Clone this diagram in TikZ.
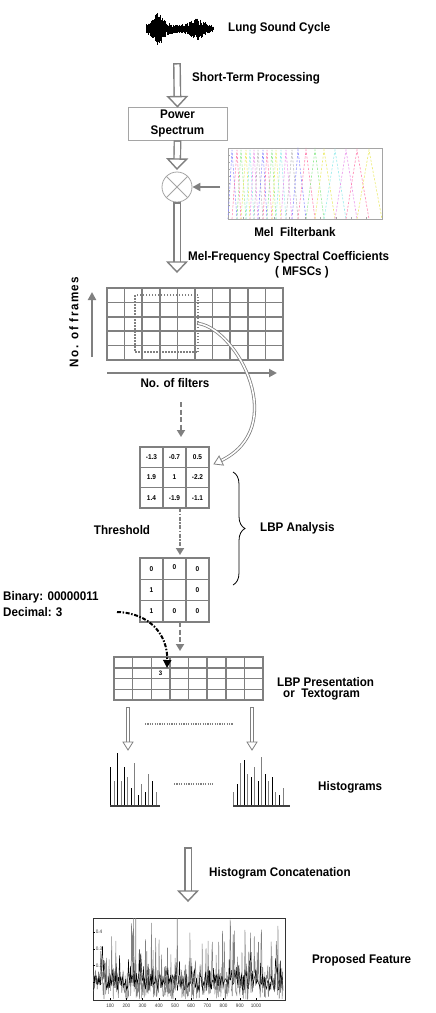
\documentclass[tikz,border=0pt]{standalone}
\usepackage{fontspec}
\setmainfont{Liberation Sans}[FakeStretch=0.93]
\usetikzlibrary{arrows.meta,decorations.pathreplacing,calc}
\definecolor{ag}{RGB}{128,128,128}
\definecolor{lg}{RGB}{165,165,165}
\definecolor{fa}{RGB}{140,140,255}
\definecolor{fb}{RGB}{255,130,175}
\definecolor{fc}{RGB}{150,235,150}
\definecolor{fd}{RGB}{235,235,110}
\definecolor{fe}{RGB}{150,235,235}
\definecolor{ff}{RGB}{235,150,235}
\definecolor{fg}{RGB}{185,185,185}
\begin{document}
\begin{tikzpicture}[x=1pt,y=-1pt,
  lab/.style={font=\bfseries\fontsize{12.5}{15}\selectfont, inner sep=0pt, text=black},
  numtxt/.style={font=\bfseries\fontsize{7}{8}\selectfont, inner sep=0pt},
  tiny/.style={font=\fontsize{5}{6}\selectfont, inner sep=0pt, text=black!80},
  gline/.style={draw=ag, line width=1.5pt},
  bigshaft/.style={draw=ag, line width=1.4pt, double=white, double distance=5pt, line cap=rect},
  thinshaft/.style={draw=ag, line width=0.8pt, double=white, double distance=1.6pt, line cap=rect},
  bighead/.pic={\draw[draw=ag, fill=white, line width=1.4pt] (0pt,0pt) -- (-10pt,9.5pt) -- (-10pt,-9.5pt) -- cycle;},
  smallhead/.pic={\draw[draw=ag, fill=white, line width=0.8pt] (0pt,0pt) -- (-8pt,5pt) -- (-8pt,-5pt) -- cycle;},
  dasharr/.style={draw=ag, line width=1.8pt, dash pattern=on 5pt off 2.5pt, -{Triangle[length=7pt,width=8pt]}},
  ddarr/.style={draw=ag, line width=1.8pt, dash pattern=on 4pt off 1.5pt on 1.5pt off 1.5pt, -{Triangle[length=7pt,width=8pt]}},
  axarr/.style={draw=ag, line width=2pt, -{Triangle[length=8pt,width=8pt]}},
  fbline/.style={line width=0.6pt, dash pattern=on 2.2pt off 1.6pt},
  dotl/.style={draw=ag, line width=1.2pt, dash pattern=on 1.2pt off 1.2pt}
]
\useasboundingbox (0,0) rectangle (436,1013);

% ---------- waveform ----------
\coordinate (wave) at (179,29);
\pgfmathsetseed{3}
\foreach \i in {0,...,150}{
  \pgfmathsetmacro{\xx}{146+0.447*\i}
  \pgfmathsetmacro{\env}{15/(1+((\xx-158)/6)^2)+9/(1+((\xx-197)/9)^2)+1.5}
  \pgfmathsetmacro{\ua}{\env*(0.3+0.7*rnd)}
  \pgfmathsetmacro{\da}{\env*(0.3+0.7*rnd)}
  \draw[line width=0.5pt] (\xx,29-\ua) -- (\xx,29+\da);
}
\node[lab, anchor=west] (lsc) at (228,28) {Lung Sound Cycle};

% ---------- power spectrum ----------
\coordinate (a1s) at (177,67);
\node[lab, anchor=west] (stp) at (192,78) {Short-Term Processing};
\node[draw=lg, line width=0.8pt, fill=white, minimum width=99pt, minimum height=33pt,
      align=center, font=\bfseries\fontsize{12.5}{16}\selectfont, inner sep=0pt] (ps) at (177.5,123.5) {Power\\Spectrum};
\node[circle, draw=lg, line width=0.8pt, minimum size=30pt, inner sep=0pt] (mul) at (177,187) {};
\draw[lg, line width=0.8pt] (mul.north west) -- (mul.south east) (mul.north east) -- (mul.south west);
\coordinate (a2e) at (177,169);
\coordinate (a3e) at (177,272);

\draw[bigshaft, shorten >=12pt] (a1s) -- (ps.north);
\path (a1s) -- (ps.north) pic[pos=1, sloped, allow upside down] {bighead};
\draw[bigshaft, shorten <=3.9pt, shorten >=12pt] (ps.south) -- (a2e);
\path (ps.south) -- (a2e) pic[pos=1, sloped, allow upside down] {bighead};
\draw[bigshaft, shorten <=3.9pt, shorten >=12pt] (mul.south) -- (a3e);
\path (mul.south) -- (a3e) pic[pos=1, sloped, allow upside down] {bighead};

% ---------- mel filterbank ----------
\node[draw=lg, line width=0.5pt, minimum width=154pt, minimum height=71pt, inner sep=0pt] (mfb) at (305,183.5) {};
\foreach \a/\b/\c/\col in {228/232/237/fa, 232/237/241/fb, 237/241/246/fc, 241/246/250/fd,
   246/250/254/fe, 250/254/258/ff, 254/258/263/fg, 258/263/267/fa, 263/267/272/fb,
   267/272/276/fc, 272/276/281/fd, 276/281/286/fe, 281/286/292/ff, 286/292/298/fg,
   292/298/306/fa, 298/306/315/fb, 306/315/324/fc, 315/324/335/fd, 324/335/346/fe,
   335/346/357/ff, 346/357/369/fb, 357/369/382/fd}{
  \draw[fbline, draw=\col] (\a,219) -- (\b,150) -- (\c,219);
}
\foreach \k in {0,...,10}{ \draw[lg, line width=0.4pt] (228+15.4*\k,219) -- (228+15.4*\k,217); }
\foreach \k in {0,...,10}{ \draw[lg, line width=0.4pt] (228,219-7.1*\k) -- (230,219-7.1*\k); }
\coordinate (fbl) at (220,187);
\draw[axarr] (fbl) -- (mul.east);
\node[lab] (mfbl) at (295,232) {Mel\ \ Filterbank};

\node[lab, anchor=west] (mfsc1) at (188,257) {Mel-Frequency Spectral Coefficients};
\node[lab] (mfsc2) at (302,272) {( MFSCs )};

% ---------- MFSC grid ----------
\node[draw=ag, line width=1.5pt, minimum width=176pt, minimum height=72pt, inner sep=0pt] (mgrid) at (195,324) {};
\foreach \k in {1,...,9}{ \draw[gline] (107+17.6*\k,288) -- (107+17.6*\k,360); }
\foreach \k in {1,...,4}{ \draw[gline] (107,288+14.4*\k) -- (283,288+14.4*\k); }
\node[draw=ag, line width=1.5pt, dash pattern=on 1.5pt off 1.5pt, minimum width=63pt, minimum height=57pt, inner sep=0pt] (win) at (166.5,323.5) {};
\coordinate (fr1) at (92,357);
\coordinate (fr2) at (92,292);
\draw[axarr] (fr1) -- (fr2);
\node[lab, rotate=90] (nfr) at (74,322) {\addfontfeatures{LetterSpace=12}No. of frames};
\coordinate (fi1) at (107,373);
\coordinate (fi2) at (277,373);
\draw[axarr] (fi1) -- (fi2);
\node[lab] (nfi) at (175,383) {No. of filters};

\coordinate (d1s) at (181,402);
\coordinate (d1e) at (181,437);
\draw[dasharr] (d1s) -- (d1e);

% ---------- LBP grids ----------
\node[draw=ag, line width=1.5pt, minimum width=69pt, minimum height=61pt, inner sep=0pt] (g1) at (174.5,477.5) {};
\foreach \k in {1,2}{ \draw[gline] (140+23*\k,447) -- (140+23*\k,508); \draw[gline] (140,447+20.33*\k) -- (209,447+20.33*\k); }
\foreach \x/\y/\v [count=\n] in {151.5/457.2/-1.3, 174.5/457.2/-0.7, 197.5/457.2/0.5,
  151.5/477.5/1.9, 174.5/477.5/1, 197.5/477.5/-2.2,
  151.5/497.8/1.4, 174.5/497.8/-1.9, 197.5/497.8/-1.1}{
  \node[numtxt] (ga\n) at (\x,\y) {\v};
}
\coordinate (cend) at (214,464);
\draw[thinshaft, shorten >=7pt] (win.east) .. controls (238,330) and (290,428) .. (cend);
\path (win.east) .. controls (238,330) and (290,428) .. (cend) pic[pos=1, sloped, allow upside down] {smallhead};

\coordinate (d2s) at (180,508);
\coordinate (d2e) at (180,555);
\draw[ddarr] (d2s) -- (d2e);
\node[lab] (thr) at (122,530) {Threshold};

\node[draw=ag, line width=1.5pt, minimum width=69pt, minimum height=64pt, inner sep=0pt] (g2) at (174.5,590) {};
\foreach \k in {1,2}{ \draw[gline] (140+23*\k,558) -- (140+23*\k,622); \draw[gline] (140,558+21.33*\k) -- (209,558+21.33*\k); }
\foreach \x/\y/\v [count=\n] in {151.5/568.7/0, 174.5/567.5/0, 197.5/568.7/0,
  151.5/590/1, 197.5/590/0,
  151.5/611.3/1, 174.5/611.3/0, 197.5/611.3/0}{
  \node[numtxt] (gb\n) at (\x,\y) {\v};
}

\coordinate (brt) at (233,472);
\coordinate (brb) at (233,585);
\draw[line width=0.8pt, decorate, decoration={brace, amplitude=12pt}] (brt) -- (brb);
\node[lab, anchor=west] (lbpa) at (260,528) {LBP Analysis};

\node[lab, anchor=west] (bin) at (3,597) {Binary: 00000011};
\node[lab, anchor=west] (dec) at (3,612) {Decimal: 3};

\coordinate (d3s) at (180,622);
\coordinate (d3e) at (180,651);
\draw[dasharr] (d3s) -- (d3e);

% ---------- textogram ----------
\node[draw=ag, line width=1.5pt, minimum width=149pt, minimum height=43pt, inner sep=0pt] (tg) at (188.5,678.5) {};
\foreach \k in {1,...,7}{ \draw[gline] (114+18.625*\k,657) -- (114+18.625*\k,700); }
\foreach \k in {1,2,3}{ \draw[gline] (114,657+10.75*\k) -- (263,657+10.75*\k); }
\node[numtxt, font=\bfseries\fontsize{6.5}{7}\selectfont] (three) at (160.6,673.5) {3};
\coordinate (bst) at (117,612);
\coordinate (bnd) at (167,668);
\draw[black, line width=2pt, dash pattern=on 4pt off 1.6pt on 1.5pt off 1.6pt, -{Triangle[length=8pt,width=8pt]}]
  (bst) .. controls (150,613) and (168,635) .. (bnd);
\node[lab, anchor=west] (lbpp) at (277,682) {LBP Presentation};
\node[lab, anchor=west] (lbpt) at (283,695) {or\ \ Textogram};

% ---------- histograms ----------
\coordinate (h1s) at (128,708.6);
\coordinate (h1e) at (128,750);
\coordinate (h2s) at (252,708.6);
\coordinate (h2e) at (252,750);
\draw[thinshaft, shorten >=7pt] (h1s) -- (h1e);
\path (h1s) -- (h1e) pic[pos=1, sloped, allow upside down] {smallhead};
\draw[thinshaft, shorten >=7pt] (h2s) -- (h2e);
\path (h2s) -- (h2e) pic[pos=1, sloped, allow upside down] {smallhead};
\coordinate (dl1a) at (145,724);
\coordinate (dl1b) at (233,724);
\draw[dotl] (dl1a) -- (dl1b);

\foreach \x/\t/\c in {110.7/766.7/black, 114/781/ag, 117.7/752.7/black, 121/781/ag, 124.3/766.7/black,
  127.7/777.3/ag, 131/787.7/black, 134.7/763.3/ag, 138/795/black, 141.7/784.3/ag, 145/791.7/black,
  148.7/774/ag, 152.7/781/black, 156/791.7/ag}{
  \draw[draw=\c, line width=1pt] (\x,806) -- (\x,\t);
}
\draw[black!75, line width=1.6pt] (110,806) -- (160,806);
\foreach \x/\t/\c in {233.3/791.7/ag, 237/784.3/black, 240.7/763.3/ag, 244/760/black, 247.7/774/ag,
  251/777.3/black, 254.7/766.7/ag, 258.3/781/black, 261.7/756.7/ag, 265.3/774/black, 268.7/781/ag,
  272.3/777.3/black, 275.7/791.7/ag, 279.3/795/black, 283/788.3/ag}{
  \draw[draw=\c, line width=1pt] (\x,806) -- (\x,\t);
}
\draw[black!75, line width=1.6pt] (233,806) -- (290,806);
\coordinate (dl2a) at (174,784);
\coordinate (dl2b) at (213,784);
\draw[dotl] (dl2a) -- (dl2b);
\node[lab, anchor=west] (hist) at (318,787) {Histograms};

% ---------- concatenation ----------
\coordinate (a4s) at (188,851);
\coordinate (a4e) at (188,901);
\draw[bigshaft, shorten >=12pt] (a4s) -- (a4e);
\path (a4s) -- (a4e) pic[pos=1, sloped, allow upside down] {bighead};
\node[lab, anchor=west] (hcat) at (209,873) {Histogram Concatenation};

% ---------- feature plot ----------
\node[draw=black!80, line width=0.5pt, minimum width=192pt, minimum height=82pt, inner sep=0pt] (pl) at (189,959) {};
\begin{scope}
  \clip (93,918) rectangle (285,1000);
  \pgfmathsetseed{11}
  \draw[ag, line width=0.5pt] plot[samples=450, domain=0:1050, variable=\t]
     ({93+0.181*\t}, {999-167*max(0,0.08+0.09*rand+0.36*pow(rnd,7))});
  \pgfmathsetseed{5}
  \draw[black, line width=0.45pt] plot[samples=280, domain=0:1050, variable=\t]
     ({93+0.181*\t}, {999-167*max(0,0.1+0.05*rand+0.2*pow(rnd,10))});
\end{scope}
\foreach \v [count=\k] in {0.1,0.2,0.3,0.4}{
  \draw[black, line width=0.4pt] (93,999-16.7*\k) -- (95,999-16.7*\k);
  \node[tiny] (yl\k) at (99,999-16.7*\k) {\v};
}
\foreach \v [count=\k] in {100,200,300,400,500,600,700,800,900,1000}{
  \draw[black, line width=0.4pt] (94+16.2*\k,1000) -- (94+16.2*\k,998);
  \node[tiny] (xl\k) at (94+16.2*\k,1005.5) {\v};
}
\node[lab, anchor=west] (pf) at (312,960) {Proposed Feature};
\end{tikzpicture}
\end{document}
